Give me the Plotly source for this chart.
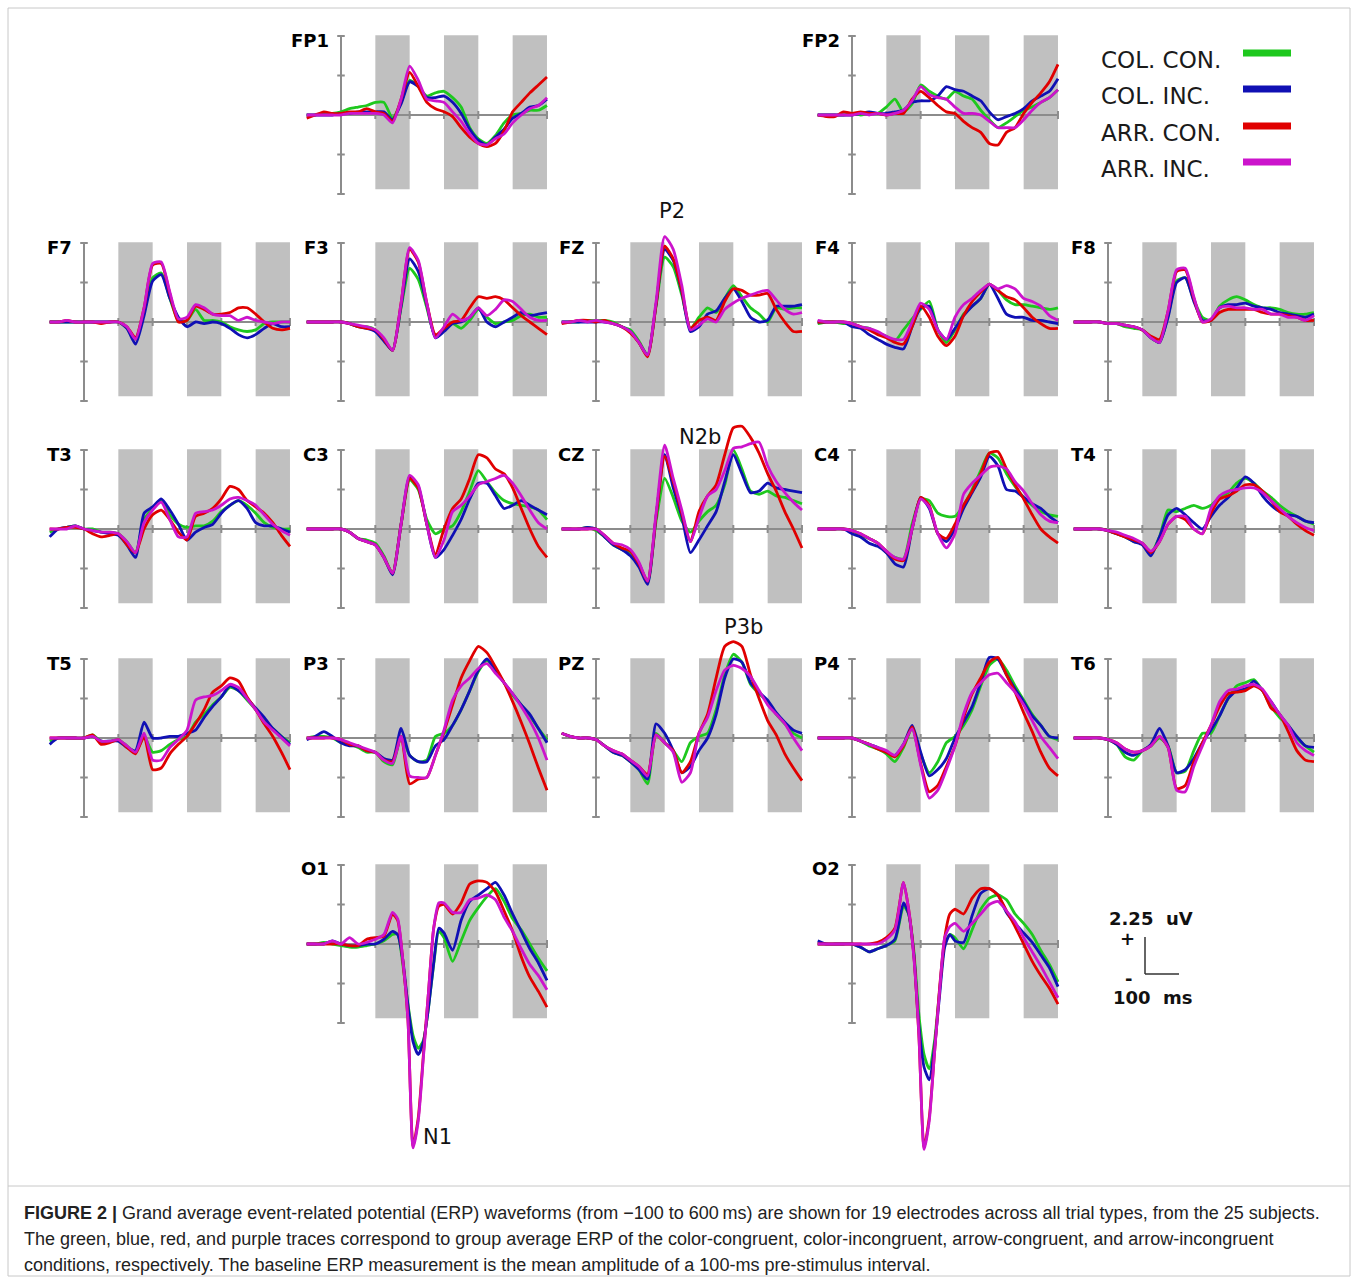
import plotly.graph_objects as go

# ---------------- data (µV) ----------------
TIMES = [-100, -75, -50, -25, 0, 25, 50, 75, 100, 125, 150, 175, 200, 225, 250,
         275, 300, 325, 350, 375, 400, 425, 450, 475, 500, 525, 550, 575, 600]
TIMES_OCC = [-100, -75, -50, -25, 0, 25, 50, 75, 100, 125, 150, 165, 180, 195, 210,
             225, 240, 255, 270, 285, 300, 325, 350, 375, 400, 425, 450, 475, 500,
             525, 550, 575, 600]

CONDITIONS = ["COL. CON.", "COL. INC.", "ARR. CON.", "ARR. INC."]
COLORS = ["#1ec81e", "#1010b4", "#e00000", "#cc14cc"]

FP1_CC = [0, 0, 0.1, 0.1, 0.2, 0.4, 0.5, 0.6, 0.8, 0.8, -0.2, 0.8, 2.2, 1.8, 1.2, 1.4, 1.5, 1.1, 0.5, -0.8, -1.5, -1.8, -1.3, -0.5, 0, 0.1, 0.3, 0.3, 0.6]
FP1_CI = [0, 0, 0, 0, 0.1, 0.1, 0.2, 0.2, 0.2, 0.2, -0.3, 0.7, 2.1, 1.8, 1.1, 1.1, 1.2, 0.8, 0.1, -0.9, -1.6, -1.9, -1.4, -0.9, -0.2, 0.1, 0.5, 0.6, 1.0]
FP1_AC = [-0.2, 0, 0.2, 0.1, 0.1, 0.2, 0.2, 0.4, 0.2, 0.1, -0.4, 1.0, 2.7, 1.8, 0.8, 0.4, 0.2, -0.1, -0.8, -1.4, -1.8, -2.0, -1.8, -1.0, 0.2, 0.8, 1.4, 1.9, 2.4]
FP1_AI = [0, 0, 0, 0, 0, 0.1, 0.1, 0.1, 0.1, 0, -0.5, 1.0, 3.1, 2.2, 1.0, 0.9, 0.8, 0.2, -0.4, -1.2, -1.8, -1.9, -1.5, -1.2, -0.5, 0, 0.4, 0.6, 1.1]

FP2_CC = [0, 0, 0, 0, 0.1, 0, 0.1, 0.1, 0.5, 1.0, 0.2, 0.7, 1.9, 1.5, 1.2, 1.0, 1.5, 1.2, 1.0, 0.3, -0.3, -0.8, -0.5, -0.1, 0.3, 0.5, 0.8, 1.1, 1.6]
FP2_CI = [0, 0, 0, 0, 0, 0.1, 0.2, 0.1, 0.1, 0.2, 0.3, 0.8, 0.9, 0.9, 1.2, 1.8, 1.6, 1.5, 1.2, 0.9, 0.2, -0.3, -0.1, 0.1, 0.4, 0.9, 1.2, 1.5, 2.3]
FP2_AC = [0, -0.1, -0.1, 0.2, 0.1, 0.2, 0.1, 0.1, 0, 0.1, 0.1, 1.0, 1.5, 1.1, 0.6, 0.2, 0.1, -0.4, -0.8, -1.1, -1.8, -1.9, -1.1, -0.8, 0.1, 0.8, 1.4, 2.1, 3.2]
FP2_AI = [0, 0, 0, 0, 0, 0.1, 0, 0.1, 0, 0.1, 0.3, 0.9, 1.8, 1.3, 1.1, 1.0, 0.5, 0.1, 0.1, 0, -0.4, -0.8, -0.8, -0.8, -0.3, 0.3, 0.8, 1.1, 1.6]

F7_CC = [0, 0, 0, 0, 0, 0, 0, 0, 0, -0.4, -1.1, 0.6, 2.8, 3.1, 1.5, 0.1, 0.1, 0.8, 0.1, 0.1, 0, -0.3, -0.5, -0.6, -0.5, -0.1, 0, 0, 0]
F7_CI = [0, 0, 0, 0, 0, 0, 0, 0, 0, -0.4, -1.4, 0.4, 2.6, 3.0, 1.5, 0.3, -0.3, 0, -0.1, 0, -0.1, -0.4, -0.8, -1.0, -0.8, -0.4, -0.1, -0.3, -0.3]
F7_AC = [0, 0, 0.1, 0, 0, 0, -0.1, 0, 0, -0.3, -1.0, 0.9, 3.6, 3.7, 1.8, 0, 0.1, 1.0, 0.8, 0.5, 0.5, 0.6, 0.9, 0.9, 0.5, 0, -0.4, -0.5, -0.4]
F7_AI = [0, 0, 0.1, 0, 0, 0, 0, 0, 0, -0.3, -1.1, 0.9, 3.7, 3.8, 1.9, 0.2, 0.3, 1.1, 0.9, 0.5, 0.4, 0.4, 0.1, 0.3, 0.1, 0, -0.1, 0, 0]

F3_CC = [0, 0, 0, 0, 0, -0.1, -0.3, -0.3, -0.5, -1.1, -1.8, 0.9, 3.4, 2.7, 0.9, -0.9, -0.5, -0.1, -0.4, 0.1, 0.8, 0.3, -0.1, 0, 0.1, 0.4, 0.5, 0.3, 0.3]
F3_CI = [0, 0, 0, 0, 0, -0.1, -0.3, -0.4, -0.6, -1.2, -1.8, 1.0, 4.0, 3.2, 1.1, -1.0, -0.6, -0.1, 0, 0.3, 0.9, 0, -0.3, 0, 0.3, 0.6, 0.4, 0.5, 0.6]
F3_AC = [0, 0, 0, 0, 0, -0.1, -0.3, -0.4, -0.5, -1.1, -1.8, 1.2, 4.6, 3.8, 1.2, -0.8, -0.4, 0, 0.1, 0.9, 1.6, 1.5, 1.6, 1.4, 0.9, 0.4, 0, -0.4, -0.8]
F3_AI = [0, 0, 0, 0, 0, -0.1, -0.2, -0.3, -0.5, -1.0, -1.8, 1.2, 4.7, 3.9, 1.2, -1.0, -0.3, 0.5, 0.1, 0.3, 0.9, 0.4, 0.8, 1.4, 1.3, 0.8, 0.3, 0.1, 0.1]

FZ_CC = [0, 0, 0, 0.1, 0.1, 0.1, 0, -0.3, -0.5, -1.2, -2.1, 1.0, 4.1, 3.5, 1.7, -0.4, 0.3, 0.9, 0.6, 1.5, 2.3, 1.6, 0.9, 0.5, 0, 0.9, 0.8, 0.9, 0.9]
FZ_CI = [0, 0, 0, 0, 0, 0, -0.1, -0.3, -0.6, -1.3, -2.1, 1.1, 4.6, 3.9, 1.9, -0.6, -0.3, 0.5, 0.7, 1.5, 2.1, 1.3, 0.3, 0, 0.1, 1.0, 1.0, 1.0, 1.1]
FZ_AC = [-0.1, 0, 0.1, 0.1, 0, 0.1, -0.1, -0.3, -0.7, -1.3, -2.2, 1.1, 4.8, 4.0, 2.0, -0.4, 0.1, 0.3, 0.1, 1.3, 2.1, 2.0, 1.7, 1.7, 1.8, 0.8, 0, -0.6, -0.6]
FZ_AI = [0, 0, 0.1, 0, 0.1, 0, -0.1, -0.3, -0.6, -1.3, -2.1, 1.3, 5.4, 4.6, 2.3, -0.5, -0.2, 0.2, 0, 0.8, 1.2, 1.5, 1.7, 1.9, 2.0, 1.4, 0.8, 0.5, 0.6]

F4_CC = [-0.1, 0, 0, -0.1, -0.1, -0.3, -0.4, -0.7, -0.9, -1.2, -0.5, 0.2, 0.8, 1.3, -0.5, -1.3, -0.5, 0.5, 1.0, 1.5, 2.4, 2.0, 1.4, 1.1, 1.1, 1.0, 0.9, 0.8, 0.9]
F4_CI = [0, 0, 0, 0, -0.3, -0.4, -0.8, -1.1, -1.4, -1.6, -1.7, -0.3, 0.9, 1.0, -0.5, -1.1, -0.4, 0.4, 1.0, 1.5, 2.4, 1.5, 0.5, 0.3, 0.3, 0.1, 0.1, 0, -0.1]
F4_AC = [0, 0, 0, 0, -0.1, -0.3, -0.5, -0.8, -1.0, -1.3, -1.4, -0.3, 1.0, 0.3, -0.9, -1.5, -0.9, 0.4, 1.3, 1.9, 2.4, 2.0, 1.6, 1.4, 0.9, 0.3, -0.1, -0.4, -0.4]
F4_AI = [0.1, 0, 0, 0, -0.1, -0.3, -0.4, -0.6, -0.9, -1.1, -1.1, 0, 1.2, 0.8, -0.5, -1.1, 0.3, 1.1, 1.5, 2.0, 2.4, 2.1, 2.3, 2.1, 1.5, 1.3, 1.0, 0.4, 0.1]

F8_CC = [0, 0, 0, 0, -0.1, -0.1, -0.3, -0.4, -0.5, -1.0, -1.3, 0.4, 2.6, 2.8, 1.4, 0.3, 0.1, 1.0, 1.4, 1.6, 1.4, 1.1, 0.9, 0.9, 0.8, 0.6, 0.5, 0.5, 0.6]
F8_CI = [0, 0, 0, 0, -0.1, -0.1, -0.2, -0.3, -0.5, -1.0, -1.3, 0.3, 2.5, 2.8, 1.3, 0.1, 0.1, 0.9, 1.1, 1.1, 1.2, 1.0, 0.9, 0.8, 0.6, 0.5, 0.4, 0.3, 0.5]
F8_AC = [0, 0, 0, 0, -0.1, -0.1, -0.2, -0.3, -0.5, -0.9, -1.1, 0.7, 3.2, 3.3, 1.5, 0, 0.1, 0.6, 0.8, 0.8, 0.8, 0.8, 0.6, 0.5, 0.5, 0.4, 0.3, 0.1, 0.1]
F8_AI = [0, 0, 0, 0, -0.1, -0.1, -0.2, -0.3, -0.5, -1.0, -1.3, 0.7, 3.3, 3.4, 1.6, 0, 0.2, 0.9, 1.0, 0.9, 0.9, 0.8, 0.8, 0.5, 0.5, 0.3, 0.3, 0.1, 0.4]

T3_CC = [-0.2, 0, 0.1, 0.2, 0, 0, -0.2, -0.2, -0.3, -0.8, -1.5, 0.6, 1.3, 1.8, 0.9, 0.3, 0.1, 0.2, 0.2, 0.5, 1.1, 1.5, 1.8, 1.5, 1.0, 0.4, 0.1, 0, 0]
T3_CI = [-0.5, 0, 0.1, 0.2, 0, -0.1, -0.2, -0.3, -0.4, -1.0, -1.8, 1.0, 1.4, 1.9, 1.2, 0.3, -0.7, -0.2, 0.1, 0.3, 1.0, 1.5, 1.8, 1.3, 0.4, 0.2, 0.2, 0, -0.2]
T3_AC = [0, 0, 0.1, 0.1, 0, -0.3, -0.5, -0.4, -0.3, -1.0, -1.5, 0, 0.9, 1.2, 0.6, -0.2, -0.7, 0.8, 1.0, 1.3, 1.9, 2.7, 2.5, 1.8, 1.4, 1.0, 0.4, -0.4, -1.1]
T3_AI = [0, 0, 0, 0.2, 0, -0.1, -0.2, -0.2, -0.3, -0.8, -1.5, 0.4, 1.2, 1.7, 0.6, -0.5, -0.5, 1.0, 1.1, 1.2, 1.5, 1.9, 2.0, 1.8, 1.5, 0.9, 0.3, -0.1, -0.4]

C3_CC = [0, 0, 0, 0, 0, -0.2, -0.6, -0.7, -0.9, -1.7, -2.8, 0.3, 3.1, 2.5, 0.6, -0.3, 0, 0.2, 1.1, 2.4, 3.7, 3.0, 2.3, 1.8, 1.6, 1.5, 1.4, 1.2, 0.6]
C3_CI = [0, 0, 0, 0, 0, -0.2, -0.6, -0.8, -1.0, -1.8, -2.9, 0.3, 3.3, 2.7, 0.3, -1.8, -1.3, -0.4, 0.6, 1.9, 2.9, 2.9, 2.1, 1.3, 1.5, 1.8, 1.5, 1.2, 0.9]
C3_AC = [0, 0, 0, 0, 0, -0.2, -0.6, -0.8, -1.0, -1.8, -2.8, 0.3, 3.2, 2.6, 0.3, -1.6, 0, 1.3, 1.9, 3.2, 4.7, 4.5, 3.8, 3.5, 2.6, 1.3, 0, -1.1, -1.8]
C3_AI = [0, 0, 0, 0, 0, -0.2, -0.6, -0.8, -1.0, -1.8, -2.8, 0.3, 3.4, 2.8, 0.3, -1.8, -0.7, 1.1, 1.5, 2.1, 2.8, 3.0, 3.2, 3.4, 2.9, 2.1, 1.2, 0.4, 0]

CZ_CC = [0, 0, 0, 0.1, -0.1, -0.5, -1.0, -1.3, -1.5, -2.2, -3.4, 0.5, 3.2, 2.0, 0.5, -0.2, 0.5, 1.1, 1.5, 2.8, 5.0, 3.8, 2.4, 2.2, 2.4, 2.1, 2.0, 1.8, 1.6]
CZ_CI = [0, 0, 0, 0.1, 0, -0.5, -1.0, -1.3, -1.7, -2.4, -3.5, 0.8, 4.7, 2.6, 0.8, -1.5, -0.7, 0.2, 1.1, 3.0, 4.7, 3.5, 2.3, 2.4, 2.9, 2.6, 2.5, 2.4, 2.3]
CZ_AC = [0, 0, 0, 0, 0, -0.4, -0.9, -1.2, -1.4, -2.2, -3.3, 0.8, 4.6, 3.0, 1.0, -0.8, 1.1, 2.1, 2.8, 4.7, 6.4, 6.5, 5.8, 4.8, 3.5, 2.4, 1.1, 0, -1.2]
CZ_AI = [0, 0, 0, 0, 0, -0.4, -0.9, -1.0, -1.3, -2.1, -3.3, 1.0, 5.3, 3.2, 1.2, -0.8, 0.7, 2.1, 2.5, 3.7, 5.1, 5.2, 5.4, 5.5, 4.0, 3.0, 2.3, 1.7, 1.2]

C4_CC = [0, 0, 0, 0, -0.1, -0.4, -0.6, -0.9, -1.5, -1.8, -1.9, 0.3, 1.9, 1.8, 1.0, 0.8, 0.8, 1.5, 2.5, 3.7, 4.8, 4.5, 3.5, 2.7, 2.0, 1.5, 1.1, 0.9, 0.8]
C4_CI = [0, 0, 0, 0, -0.3, -0.5, -0.9, -1.1, -1.5, -2.2, -2.4, 0, 2.0, 1.3, -0.3, -0.8, 0, 1.3, 2.3, 3.3, 4.6, 4.0, 2.5, 2.4, 2.0, 1.6, 1.3, 0.8, 0.4]
C4_AC = [0, 0, 0, 0, -0.1, -0.3, -0.6, -0.9, -1.4, -1.9, -2.0, 0, 2.0, 1.5, -0.3, -0.6, 0.3, 1.5, 2.4, 3.5, 4.8, 4.9, 3.8, 2.8, 1.9, 0.9, 0, -0.5, -0.9]
C4_AI = [0, 0, 0, 0, -0.1, -0.3, -0.6, -0.9, -1.4, -1.8, -1.9, 0, 1.9, 1.4, -0.3, -1.2, -0.3, 2.2, 2.9, 3.4, 3.9, 4.0, 3.8, 3.0, 2.4, 1.6, 0.9, 0.5, 0.4]

T4_CC = [0, 0, 0, 0, -0.1, -0.3, -0.5, -0.8, -0.9, -1.5, -0.5, 1.2, 1.1, 1.3, 1.5, 1.3, 1.5, 2.0, 2.3, 2.9, 3.2, 2.9, 2.4, 2.0, 1.5, 1.1, 0.8, 0.5, 0.3]
T4_CI = [0, 0, 0, 0, -0.1, -0.3, -0.5, -0.8, -1.0, -1.7, -0.5, 0.9, 1.3, 0.9, 0.4, 0, 0.8, 1.5, 2.0, 2.6, 3.3, 2.9, 2.1, 1.5, 1.1, 0.9, 0.8, 0.5, 0.4]
T4_AC = [0, 0, 0, 0, -0.1, -0.3, -0.5, -0.7, -0.9, -1.5, -0.8, 0.3, 0.8, 0.6, 0, -0.3, 1.0, 1.9, 2.1, 2.4, 2.8, 2.8, 2.4, 1.8, 1.1, 0.8, 0.3, -0.1, -0.4]
T4_AI = [0, 0, 0, 0, -0.1, -0.2, -0.4, -0.6, -0.9, -1.4, -0.8, 0.3, 0.8, 0.8, 0, -0.3, 1.3, 2.1, 2.4, 2.5, 2.6, 2.6, 2.3, 1.8, 1.3, 0.8, 0.4, 0.1, -0.1]

T5_CC = [-0.2, 0, 0, 0, 0, 0.2, -0.2, -0.2, -0.1, -0.5, -0.9, 0.1, -0.9, -0.8, -0.4, -0.1, 0.1, 1.0, 1.5, 2.1, 2.6, 3.2, 3.0, 2.4, 1.8, 1.1, 0.6, 0.1, -0.3]
T5_CI = [-0.4, 0, 0, 0, 0, 0.1, -0.2, -0.2, -0.2, -0.6, -0.8, 1.0, 0, 0, 0.1, 0.1, 0.3, 0.5, 1.3, 2.0, 2.6, 3.3, 3.0, 2.5, 1.9, 1.3, 0.6, 0.1, -0.4]
T5_AC = [0, 0, 0, 0, 0, 0.2, -0.4, -0.3, -0.1, -0.6, -1.0, 0.1, -2.0, -1.9, -1.0, -0.4, 0.1, 0.9, 1.8, 2.9, 3.3, 3.8, 3.6, 2.6, 1.8, 0.9, 0.1, -0.9, -2.0]
T5_AI = [0, 0, 0, 0, 0, 0.1, -0.2, -0.2, -0.1, -0.5, -0.9, 0.3, -1.4, -1.4, -0.6, -0.1, 0.5, 2.4, 2.6, 2.7, 3.0, 3.4, 3.2, 2.5, 1.8, 1.0, 0.5, 0, -0.5]

P3_CC = [0, 0.1, 0.1, 0, -0.3, -0.4, -0.6, -0.9, -0.9, -1.5, -1.7, 0.1, -1.1, -1.5, -1.4, 0.1, 0.3, 0.8, 1.8, 3.0, 4.2, 4.9, 4.3, 3.5, 2.7, 2.1, 1.4, 0.6, -0.1]
P3_CI = [-0.1, 0.1, 0.4, 0.1, -0.3, -0.5, -0.5, -0.8, -0.9, -1.3, -1.4, 0.6, -1.1, -1.5, -1.5, -0.5, -0.1, 0.8, 1.8, 3.0, 4.3, 5.0, 4.3, 3.5, 2.8, 2.1, 1.5, 0.6, -0.3]
P3_AC = [0, 0, 0, 0, -0.1, -0.4, -0.5, -0.8, -0.9, -1.4, -1.5, 0.1, -2.9, -2.6, -2.5, -1.1, 0.4, 2.1, 3.8, 4.9, 5.8, 5.4, 4.5, 3.5, 2.3, 1.0, -0.4, -1.9, -3.3]
P3_AI = [0, 0, 0, 0, -0.1, -0.3, -0.5, -0.7, -0.9, -1.4, -1.6, 0.1, -2.4, -2.5, -2.5, -1.1, 0.5, 2.4, 3.3, 3.8, 4.4, 4.7, 4.1, 3.5, 2.8, 2.0, 1.1, 0, -1.4]

PZ_CC = [0.3, 0.1, 0, 0, -0.1, -0.5, -0.9, -1.1, -1.5, -2.0, -2.9, 0.3, -0.3, -0.8, -1.5, -0.3, 0.1, 0.3, 1.8, 4.0, 5.3, 4.8, 3.4, 2.8, 2.3, 1.5, 0.9, 0.3, 0]
PZ_CI = [0.3, 0.1, 0, 0, -0.1, -0.5, -0.9, -1.1, -1.5, -2.0, -2.6, 0.9, 0.3, -0.8, -2.2, -1.8, -0.8, 0, 1.5, 3.8, 5.0, 4.8, 3.5, 2.9, 2.4, 1.6, 1.0, 0.5, 0.3]
PZ_AC = [0.3, 0.1, 0, 0, -0.1, -0.5, -0.8, -1.0, -1.4, -1.8, -2.3, 0.2, -0.3, -0.8, -2.2, -1.5, 0.3, 1.5, 3.8, 5.8, 6.1, 5.8, 4.0, 2.5, 1.1, 0.2, -1.0, -1.9, -2.7]
PZ_AI = [0.3, 0.1, 0, 0, -0.1, -0.5, -0.8, -1.0, -1.4, -1.8, -2.4, 0.2, -0.3, -0.9, -2.8, -2.2, 0.3, 1.3, 3.0, 4.3, 4.6, 4.4, 3.9, 3.0, 2.1, 1.5, 0.9, 0, -0.8]

P4_CC = [0, 0, 0, 0, 0, -0.2, -0.5, -0.7, -1.0, -1.5, -0.6, 0.6, -1.0, -2.2, -1.5, -0.3, 0.1, 0.8, 1.8, 3.3, 4.6, 5.0, 4.3, 3.3, 2.4, 1.5, 0.8, 0.1, -0.1]
P4_CI = [0, 0, 0, 0, 0, -0.2, -0.4, -0.6, -0.9, -1.1, -0.4, 0.8, -0.9, -2.4, -2.0, -1.3, 0, 1.0, 2.0, 3.5, 5.1, 5.0, 4.0, 3.1, 2.3, 1.4, 0.8, 0.1, 0]
P4_AC = [0, 0, 0, 0, 0, -0.2, -0.4, -0.7, -0.9, -1.2, -0.5, 0.7, -1.6, -3.4, -3.0, -1.8, -0.5, 1.3, 2.8, 3.8, 4.8, 5.1, 4.0, 2.9, 1.6, 0.4, -0.9, -1.9, -2.4]
P4_AI = [0, 0, 0, 0, 0, -0.2, -0.4, -0.6, -0.8, -1.1, -0.4, 0.6, -1.7, -3.8, -3.3, -2.0, -0.5, 1.5, 2.9, 3.5, 4.0, 4.1, 3.5, 2.9, 2.1, 1.1, 0.1, -0.6, -1.3]

T6_CC = [0, 0, 0, 0, -0.1, -0.4, -1.2, -1.4, -0.8, -0.5, 0, -0.5, -2.2, -2.1, -0.8, 0.3, 0.3, 1.4, 2.5, 3.3, 3.5, 3.7, 3.0, 2.0, 1.3, 0.8, 0, -0.5, -0.9]
T6_CI = [0, 0, 0, 0, -0.1, -0.4, -0.9, -1.1, -0.8, -0.4, 0.6, -0.5, -2.2, -2.0, -1.3, -0.3, 0.5, 1.4, 2.5, 3.0, 3.1, 3.6, 3.0, 2.3, 1.5, 0.8, 0.1, -0.5, -0.6]
T6_AC = [0, 0, 0, 0, -0.1, -0.3, -0.7, -0.9, -0.8, -0.5, 0.1, -0.6, -3.2, -3.0, -1.5, -0.3, 0.8, 2.0, 2.8, 2.9, 3.0, 3.3, 3.0, 1.9, 1.5, 0.4, -0.8, -1.4, -1.5]
T6_AI = [0, 0, 0, 0, -0.1, -0.3, -0.7, -0.9, -0.8, -0.5, 0.1, -0.6, -3.3, -3.4, -1.8, -0.5, 0.8, 2.3, 3.0, 3.1, 3.3, 3.4, 3.1, 2.3, 1.5, 0.8, -0.3, -0.8, -1.1]

O1_CC = [0, 0, 0.1, 0, -0.1, -0.2, -0.2, -0.1, 0, 0.2, 0.6, 0.6, -1.3, -3.8, -5.8, -6.6, -6.1, -4.0, -1.3, 0.8, 0.4, -1.1, 0.2, 1.5, 2.3, 3.0, 3.5, 2.7, 1.6, 0.9, 0, -0.9, -1.7]
O1_CI = [0, 0, 0, 0.2, 0, -0.1, -0.1, 0, 0, 0.3, 0.8, 0.6, -1.0, -3.9, -6.2, -7.0, -6.2, -4.0, -1.2, 1.0, 0.7, -0.4, 1.5, 2.7, 3.1, 3.5, 3.9, 3.1, 1.9, 0.8, -0.3, -1.2, -2.3]
O1_AC = [0, 0, 0, 0, 0, -0.1, -0.1, 0.3, 0.4, 0.5, 1.9, 1.5, -1.0, -4.8, -12.8, -11.0, -7.0, -3.0, 1.0, 2.4, 2.5, 1.9, 2.6, 3.8, 4.0, 3.9, 3.3, 2.1, 0.8, -0.8, -2.1, -3.0, -4.0]
O1_AI = [0, 0, 0, 0.2, 0, 0.4, 0, 0.1, 0.3, 0.6, 2.0, 1.6, -1.0, -4.8, -12.9, -11.2, -7.2, -3.0, 1.0, 2.6, 2.6, 2.0, 2.0, 2.8, 2.9, 3.1, 2.8, 1.7, 0.8, -0.3, -1.3, -2.0, -2.9]

O2_CC = [0, 0, 0, 0, 0, -0.2, -0.5, -0.3, -0.1, 0.2, 2.4, 1.9, -0.4, -4.5, -7.0, -7.9, -6.2, -3.0, 0, 0.6, 0.4, -0.3, 0.9, 2.2, 2.9, 3.1, 2.8, 1.9, 1.3, 0.6, -0.4, -1.3, -2.4]
O2_CI = [0.2, 0, 0, 0, 0, -0.2, -0.5, -0.3, -0.1, 0.3, 2.6, 1.9, -0.6, -5.2, -7.8, -8.6, -6.6, -3.3, -0.2, 0.6, 0.2, 0.1, 1.8, 3.2, 3.5, 3.1, 2.0, 1.3, 0.7, 0.1, -0.7, -1.5, -2.7]
O2_AC = [0, 0, 0, 0, 0, 0, 0, 0.1, 0.4, 1.0, 3.9, 2.2, -0.7, -5.9, -12.9, -11.0, -7.0, -2.8, 0.4, 1.9, 2.2, 1.9, 2.9, 3.5, 3.5, 3.1, 2.1, 1.1, 0, -1.1, -2.0, -2.8, -3.8]
O2_AI = [0, 0, 0, 0, 0, 0, 0, 0, 0.3, 0.9, 3.9, 2.2, -0.8, -5.8, -13.0, -11.2, -7.0, -3.0, 0.4, 1.1, 1.3, 0.8, 1.3, 1.9, 2.5, 2.7, 2.1, 1.4, 0.4, -0.5, -1.4, -2.4, -3.4]

# electrode, grid row, grid column, time grid, the four condition series
ELECTRODES = [
    ("FP1", 0, 1, TIMES, [FP1_CC, FP1_CI, FP1_AC, FP1_AI]),
    ("FP2", 0, 3, TIMES, [FP2_CC, FP2_CI, FP2_AC, FP2_AI]),
    ("F7", 1, 0, TIMES, [F7_CC, F7_CI, F7_AC, F7_AI]),
    ("F3", 1, 1, TIMES, [F3_CC, F3_CI, F3_AC, F3_AI]),
    ("FZ", 1, 2, TIMES, [FZ_CC, FZ_CI, FZ_AC, FZ_AI]),
    ("F4", 1, 3, TIMES, [F4_CC, F4_CI, F4_AC, F4_AI]),
    ("F8", 1, 4, TIMES, [F8_CC, F8_CI, F8_AC, F8_AI]),
    ("T3", 2, 0, TIMES, [T3_CC, T3_CI, T3_AC, T3_AI]),
    ("C3", 2, 1, TIMES, [C3_CC, C3_CI, C3_AC, C3_AI]),
    ("CZ", 2, 2, TIMES, [CZ_CC, CZ_CI, CZ_AC, CZ_AI]),
    ("C4", 2, 3, TIMES, [C4_CC, C4_CI, C4_AC, C4_AI]),
    ("T4", 2, 4, TIMES, [T4_CC, T4_CI, T4_AC, T4_AI]),
    ("T5", 3, 0, TIMES, [T5_CC, T5_CI, T5_AC, T5_AI]),
    ("P3", 3, 1, TIMES, [P3_CC, P3_CI, P3_AC, P3_AI]),
    ("PZ", 3, 2, TIMES, [PZ_CC, PZ_CI, PZ_AC, PZ_AI]),
    ("P4", 3, 3, TIMES, [P4_CC, P4_CI, P4_AC, P4_AI]),
    ("T6", 3, 4, TIMES, [T6_CC, T6_CI, T6_AC, T6_AI]),
    ("O1", 4, 1, TIMES_OCC, [O1_CC, O1_CI, O1_AC, O1_AI]),
    ("O2", 4, 3, TIMES_OCC, [O2_CC, O2_CI, O2_AC, O2_AI]),
]

BAND_STARTS = [100, 300, 500]
BAND_WIDTH = 100
BAND_RANGE = [-4.7, 5.05]
Y_TICKS = [-5, -2.5, 0, 2.5, 5]
X_TICKS = [100, 200, 300, 400, 500, 600]
TIME_RANGE = [-100, 600]

PEAK_LABELS = [("P2", 672, 211), ("N2b", 700, 437), ("P3b", 743, 627), ("N1", 437, 1137)]

CAPTION = [
    "<b>FIGURE 2 |</b> Grand average event-related potential (ERP) waveforms (from \u2212100 to 600\u2009ms) are shown for 19 electrodes across all trial types, from the 25 subjects.",
    "The green, blue, red, and purple traces correspond to group average ERP of the color-congruent, color-incongruent, arrow-congruent, and arrow-incongruent",
    "conditions, respectively. The baseline ERP measurement is the mean amplitude of a 100-ms pre-stimulus interval.",
]

# ---------------- layout geometry (pixels) ----------------
W, H = 1358, 1279
AXIS_X = [84, 341, 596, 852, 1108]
ZERO_Y = [115, 322, 529, 738, 944]
PX_MS = 0.3433
PX_UV = 15.8
AX_GRAY = "#8c8c8c"


def px(x):
    return x / W


def py(y):
    return 1 - y / H


fig = go.Figure()
layout = dict(
    width=W, height=H, margin=dict(l=0, r=0, t=0, b=0),
    paper_bgcolor="white", plot_bgcolor="rgba(0,0,0,0)",
    showlegend=False,
)
shapes = []
annotations = []

for i, (name, r, c, times, series) in enumerate(ELECTRODES):
    k = i + 1
    xa = "x" if k == 1 else f"x{k}"
    ya = "y" if k == 1 else f"y{k}"
    x0 = AXIS_X[c]
    zy = ZERO_Y[r]
    xr = [TIME_RANGE[0] - 6, TIME_RANGE[1] + 6]
    ylo = -14.5 if r == 4 else -6.0
    yhi = 7.0
    layout["xaxis" + ("" if k == 1 else str(k))] = dict(
        domain=[px(x0 + xr[0] * PX_MS), px(x0 + xr[1] * PX_MS)],
        range=xr, visible=False, fixedrange=True, anchor=ya)
    layout["yaxis" + ("" if k == 1 else str(k))] = dict(
        domain=[py(zy - ylo * PX_UV), py(zy - yhi * PX_UV)],
        range=[ylo, yhi], visible=False, fixedrange=True, anchor=xa)

    # grey / white bands
    for b in BAND_STARTS:
        shapes.append(dict(type="rect", xref=xa, yref=ya, x0=b, x1=b + BAND_WIDTH,
                           y0=BAND_RANGE[0], y1=BAND_RANGE[1], fillcolor="#c0c0c0",
                           line=dict(width=0), layer="below"))
    # zero line (time axis)
    shapes.append(dict(type="line", xref=xa, yref=ya, x0=TIME_RANGE[0], x1=TIME_RANGE[1],
                       y0=0, y1=0, line=dict(color=AX_GRAY, width=2), layer="below"))
    # amplitude axis
    shapes.append(dict(type="line", xref=xa, yref=ya, x0=0, x1=0,
                       y0=Y_TICKS[0], y1=Y_TICKS[-1], line=dict(color=AX_GRAY, width=2),
                       layer="below"))
    for v in Y_TICKS:
        shapes.append(dict(type="line", xref=xa, yref=ya, x0=-11, x1=11, y0=v, y1=v,
                           line=dict(color=AX_GRAY, width=2), layer="below"))
    for t in X_TICKS:
        shapes.append(dict(type="line", xref=xa, yref=ya, x0=t, x1=t, y0=-0.25, y1=0.25,
                           line=dict(color=AX_GRAY, width=2), layer="below"))

    for cond, col, vals in zip(CONDITIONS, COLORS, series):
        fig.add_trace(go.Scatter(
            x=times, y=vals, xaxis=xa, yaxis=ya, mode="lines", name=cond,
            line=dict(color=col, width=2.8, shape="spline", smoothing=0.6),
            hoverinfo="skip", showlegend=False))

    annotations.append(dict(
        xref="paper", yref="paper", x=px(x0 - 10), y=py(zy - 5 * PX_UV + 4),
        xanchor="right", yanchor="middle", showarrow=False,
        text=f"<b>{name}</b>", font=dict(family="DejaVu Sans", size=18, color="#000")))

for txt, xx, yy in PEAK_LABELS:
    annotations.append(dict(xref="paper", yref="paper", x=px(xx), y=py(yy),
                            xanchor="center", yanchor="middle", showarrow=False, text=txt,
                            font=dict(family="DejaVu Sans", size=21, color="#111")))

# legend
LEG_Y = [53, 89, 126, 162]
for cond, col, ly in zip(CONDITIONS, COLORS, LEG_Y):
    shapes.append(dict(type="line", xref="paper", yref="paper", x0=px(1243), x1=px(1291),
                       y0=py(ly), y1=py(ly), line=dict(color=col, width=7)))
    annotations.append(dict(xref="paper", yref="paper", x=px(1099), y=py(ly + 7),
                            xanchor="left", yanchor="middle", showarrow=False, text=cond,
                            font=dict(family="DejaVu Sans", size=23, color="#1a1a1a")))

# scale bar
SB = "#333333"
shapes.append(dict(type="line", xref="paper", yref="paper", x0=px(1145), x1=px(1145),
                   y0=py(937), y1=py(974), line=dict(color=SB, width=1.5)))
shapes.append(dict(type="line", xref="paper", yref="paper", x0=px(1145), x1=px(1179),
                   y0=py(974), y1=py(974), line=dict(color=SB, width=1.5)))
sbfont = dict(family="DejaVu Sans", size=18, color="#111")
for txt, xx, yy in [("<b>2.25&nbsp; uV</b>", 1151, 918), ("<b>+</b>", 1127, 938),
                    ("<b>-</b>", 1128, 978), ("<b>100&nbsp; ms</b>", 1153, 997)]:
    annotations.append(dict(xref="paper", yref="paper", x=px(xx), y=py(yy),
                            xanchor="center", yanchor="middle", showarrow=False, text=txt,
                            font=sbfont))

# frame and caption
shapes.append(dict(type="rect", xref="paper", yref="paper", x0=px(8), x1=px(1350),
                   y0=py(1276), y1=py(8), line=dict(color="#c8c8c8", width=1)))
shapes.append(dict(type="line", xref="paper", yref="paper", x0=px(8), x1=px(1350),
                   y0=py(1186), y1=py(1186), line=dict(color="#c8c8c8", width=1)))
for line, yy in zip(CAPTION, [1213, 1239, 1265]):
    annotations.append(dict(xref="paper", yref="paper", x=px(22), y=py(yy),
                            xanchor="left", yanchor="middle", showarrow=False, text=line,
                            font=dict(family="Liberation Sans", size=18, color="#222")))

layout["shapes"] = shapes
layout["annotations"] = annotations
fig.update_layout(**layout)

fig.write_html("out.html", config={"displayModeBar": False},
               post_script="document.body.style.margin='0px';")
